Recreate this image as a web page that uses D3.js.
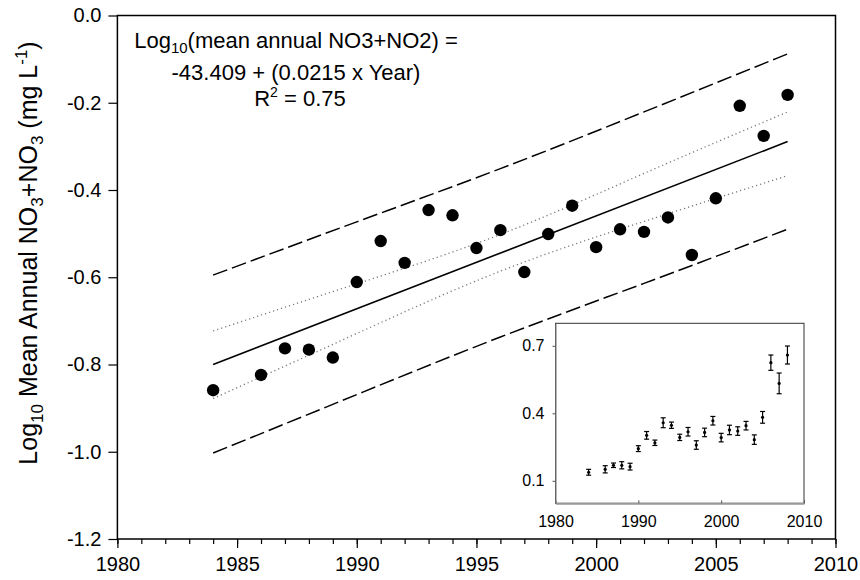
<!DOCTYPE html>
<html><head><meta charset="utf-8">
<script src="https://cdn.jsdelivr.net/npm/d3@7"></script>
<style>body{margin:0;background:#fff}svg{display:block;font-family:Arial,"Liberation Sans",sans-serif}svg text{font-family:Arial,"Liberation Sans",sans-serif}</style>
</head><body><svg id="c" width="860" height="580"></svg>
<script>
// ---- data ----
const years = [1984,1986,1987,1988,1989,1990,1991,1992,1993,1994,1995,1996,1997,1998,1999,2000,2001,2002,2003,2004,2005,2006,2007,2008];
const logMean = [-0.859,-0.824,-0.763,-0.766,-0.784,-0.611,-0.517,-0.567,-0.446,-0.458,-0.533,-0.492,-0.588,-0.501,-0.436,-0.531,-0.490,-0.496,-0.463,-0.549,-0.419,-0.207,-0.276,-0.182];
const fitYears = [1984, 2008];
const fitValues = [-0.800, -0.289];
const bandYears = [1984, 1990, 1996, 2002, 2008];
const confUpper = [-0.723, -0.615, -0.502, -0.362, -0.221];
const confLower = [-0.878, -0.729, -0.586, -0.472, -0.367];
const predUpper = [-0.595, -0.473, -0.351, -0.221, -0.088];
const predLower = [-1.003, -0.869, -0.737, -0.614, -0.490];
const xTicks = [1980,1985,1990,1995,2000,2005,2010];
const yTicks = [0,-0.2,-0.4,-0.6,-0.8,-1.0,-1.2];
// inset: mean annual concentration (mg/L) with error bars
const insetMean = [0.138,0.151,0.169,0.169,0.163,0.243,0.302,0.269,0.358,0.347,0.293,0.318,0.259,0.315,0.367,0.292,0.326,0.321,0.345,0.283,0.382,0.625,0.533,0.659];
const insetErr  = [0.013,0.016,0.010,0.016,0.015,0.013,0.017,0.012,0.022,0.014,0.014,0.019,0.019,0.019,0.019,0.019,0.021,0.019,0.019,0.021,0.026,0.034,0.046,0.040];
const insetXTicks = [1980,1990,2000,2010];
const insetYTicks = [0.1,0.4,0.7];

const FONT = "Arial, Liberation Sans, sans-serif";
const svg = d3.select("#c");
const x = d3.scaleLinear().domain([1980,2010]).range([117.4,835.5]);
const y = d3.scaleLinear().domain([-1.2,0]).range([539,15.5]);

// frame
svg.append("rect").attr("x",x(1980)).attr("y",y(0)).attr("width",x(2010)-x(1980)).attr("height",y(-1.2)-y(0))
  .attr("fill","none").attr("stroke","#000").attr("stroke-width",1.5);

// axes
const gx = svg.append("g").attr("transform",`translate(0,${y(-1.2)})`);
gx.call(d3.axisBottom(x).tickValues(d3.range(1980,2011,1)).tickSize(5).tickFormat(""));
gx.select(".domain").remove();
const gx2 = svg.append("g").attr("transform",`translate(0,${y(-1.2)})`);
gx2.call(d3.axisBottom(x).tickValues(xTicks).tickSize(9).tickPadding(9).tickFormat(d3.format("d")));
gx2.select(".domain").remove();
[gx,gx2].forEach(g=>g.selectAll("line").attr("stroke","#000").attr("stroke-width",1.2));
gx2.attr("font-family",FONT).selectAll("text").attr("font-size",20).attr("fill","#000");

const gy = svg.append("g").attr("transform",`translate(${x(1980)},0)`);
gy.call(d3.axisLeft(y).tickValues(yTicks).tickSize(9).tickPadding(7).tickFormat(d3.format(".1f")));
gy.select(".domain").remove();
gy.selectAll("line").attr("stroke","#000").attr("stroke-width",1.2);
gy.attr("font-family",FONT).selectAll("text").attr("font-size",20).attr("fill","#000")
  .text(d=> d===0 ? "0.0" : d3.format(".1f")(d).replace("−","-"));

// lines
const line = d3.line().x(d=>x(d[0])).y(d=>y(d[1])).curve(d3.curveNatural);
const zip = (a,b)=>a.map((v,i)=>[v,b[i]]);
[predUpper,predLower].forEach(arr=>{
  svg.append("path").attr("d",line(zip(bandYears,arr))).attr("fill","none")
    .attr("stroke","#000").attr("stroke-width",1.5).attr("stroke-dasharray","15,5");
});
[confUpper,confLower].forEach(arr=>{
  svg.append("path").attr("d",line(zip(bandYears,arr))).attr("fill","none")
    .attr("stroke","#777").attr("stroke-width",1.3).attr("stroke-dasharray","1.2,3");
});
svg.append("path").attr("d",d3.line().x(d=>x(d[0])).y(d=>y(d[1]))(zip(fitYears,fitValues)))
  .attr("fill","none").attr("stroke","#000").attr("stroke-width",1.6);

// points
svg.append("g").selectAll("circle").data(zip(years,logMean)).join("circle")
  .attr("cx",d=>x(d[0])).attr("cy",d=>y(d[1])).attr("r",6.2).attr("fill","#000");

// equation text
const eq = svg.append("g").attr("font-size",22).attr("fill","#000").attr("text-anchor","middle").attr("font-family",FONT);
const t1 = eq.append("text").attr("x",296).attr("y",48);
t1.append("tspan").text("Log");
t1.append("tspan").attr("font-size",15).attr("dy",5).text("10");
t1.append("tspan").attr("dy",-5).text("(mean annual NO3+NO2) =");
eq.append("text").attr("x",296).attr("y",80).text("-43.409 + (0.0215 x Year)");
const t3 = eq.append("text").attr("x",300).attr("y",106);
t3.append("tspan").text("R");
t3.append("tspan").attr("font-size",14).attr("dy",-9).text("2");
t3.append("tspan").attr("dy",9).text(" = 0.75");

// y title
const yt = svg.append("text").attr("transform","translate(37,253) rotate(-90)").attr("text-anchor","middle")
  .attr("font-size",25).attr("fill","#000").attr("font-family",FONT);
yt.append("tspan").text("Log");
yt.append("tspan").attr("font-size",17).attr("dy",6).text("10");
yt.append("tspan").attr("dy",-6).text(" Mean Annual NO");
yt.append("tspan").attr("font-size",17).attr("dy",6).text("3");
yt.append("tspan").attr("dy",-6).text("+NO");
yt.append("tspan").attr("font-size",17).attr("dy",6).text("3");
yt.append("tspan").attr("dy",-6).text(" (mg L");
yt.append("tspan").attr("font-size",17).attr("dy",-10).text("-1");
yt.append("tspan").attr("dy",10).text(")");

// ---- inset ----
const ix = d3.scaleLinear().domain([1980,2010]).range([555.5,804]);
const iy = d3.scaleLinear().domain([0,0.8]).range([503.3,323.3]);
const ig = svg.append("g");
ig.append("rect").attr("x",ix(1980)).attr("y",iy(0.8)).attr("width",ix(2010)-ix(1980)).attr("height",iy(0)-iy(0.8))
  .attr("fill","#fff").attr("stroke","#333").attr("stroke-width",1);
const igx = ig.append("g").attr("transform",`translate(0,${iy(0)})`);
igx.call(d3.axisBottom(ix).tickValues(insetXTicks).tickSizeInner(-3).tickSizeOuter(0).tickPadding(12).tickFormat(d3.format("d")));
igx.select(".domain").attr("stroke","#999").attr("stroke-width",2);
igx.selectAll("line").attr("stroke","#555");
igx.attr("font-family",FONT).selectAll("text").attr("font-size",16).attr("fill","#000");
const igy = ig.append("g").attr("transform",`translate(${ix(1980)},0)`);
igy.call(d3.axisLeft(iy).tickValues(insetYTicks).tickSizeInner(3).tickSizeOuter(0).tickPadding(8).tickFormat(d3.format(".1f")));
igy.select(".domain").attr("stroke","#888").attr("stroke-width",1.2);
igy.selectAll("line").attr("stroke","#555");
igy.attr("font-family",FONT).selectAll("text").attr("font-size",16).attr("fill","#000");

const ed = zip(years,insetMean).map((d,i)=>({yr:d[0],m:d[1],e:insetErr[i]}));
const eb = ig.append("g").attr("stroke","#000").attr("stroke-width",1.2);
eb.selectAll(".v").data(ed).join("line").attr("x1",d=>ix(d.yr)).attr("x2",d=>ix(d.yr)).attr("y1",d=>iy(d.m-d.e)).attr("y2",d=>iy(d.m+d.e));
eb.selectAll(".t").data(ed).join("line").attr("x1",d=>ix(d.yr)-2.5).attr("x2",d=>ix(d.yr)+2.5).attr("y1",d=>iy(d.m+d.e)).attr("y2",d=>iy(d.m+d.e));
eb.selectAll(".b").data(ed).join("line").attr("x1",d=>ix(d.yr)-2.5).attr("x2",d=>ix(d.yr)+2.5).attr("y1",d=>iy(d.m-d.e)).attr("y2",d=>iy(d.m-d.e));
ig.append("g").selectAll("circle").data(ed).join("circle").attr("cx",d=>ix(d.yr)).attr("cy",d=>iy(d.m)).attr("r",1.6).attr("fill","#000");
</script></body></html>
